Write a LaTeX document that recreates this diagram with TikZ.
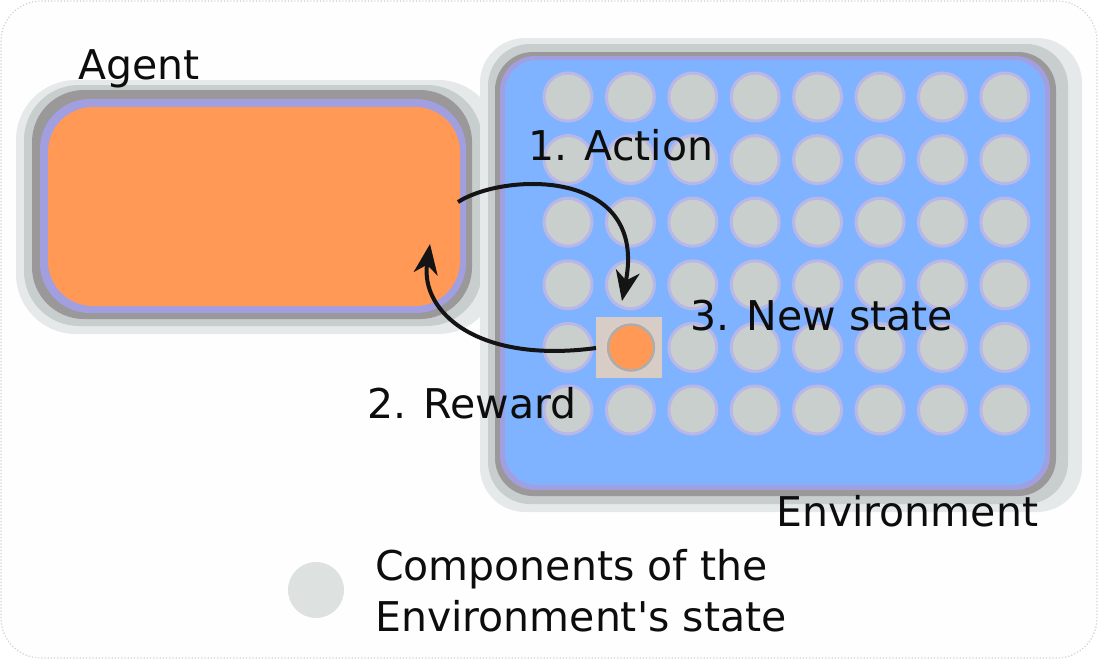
\documentclass[tikz,border=0pt]{standalone}
\usepackage{fontspec}
\setmainfont{DejaVu Sans}[Ligatures=TeXOff]
\usetikzlibrary{arrows.meta}
\definecolor{orangef}{HTML}{FF9955}
\definecolor{bluef}{HTML}{80B3FF}
\definecolor{purpleb}{HTML}{A29FE0}
\definecolor{darkg}{HTML}{9A9898}
\definecolor{glowg}{HTML}{C8CECD}
\definecolor{cellg}{HTML}{C8CFCD}
\definecolor{frameg}{HTML}{D0D0D0}
\tikzset{
  lbl/.style={anchor=base west, inner sep=0pt, font=\fontsize{41}{48}\selectfont, text=black!95},
  cell/.style={circle, minimum size=48pt, inner sep=0pt, fill=cellg, draw=purpleb!75, line width=3pt},
  arr/.style={line width=4pt, black!92, -{Stealth[length=30pt, width=24pt, inset=9pt]}},
}
\begin{document}
\begin{tikzpicture}[x=1pt,y=-1pt]
\useasboundingbox (0,0) rectangle (1098,659);
% frame
\draw[frameg, dotted, line width=1.2pt, fill=white!99.5!black, rounded corners=40pt] (1,1) rectangle (1097,658);
% Agent box layers
\fill[glowg!45, rounded corners=60pt] (16,80) rectangle (498,334);
\fill[glowg, rounded corners=55pt] (24,85) rectangle (482,326);
\fill[darkg, rounded corners=52pt] (32,90) rectangle (472,319);
\fill[purpleb, rounded corners=50pt] (40,99) rectangle (466,313);
\node[fill=orangef, rounded corners=45pt, minimum width=412pt, minimum height=199pt, inner sep=0pt] (agent) at (254,206.5) {};
% Environment box layers
\fill[glowg!45, rounded corners=45pt] (480,38) rectangle (1082,512);
\fill[glowg, rounded corners=42pt] (488,44) rectangle (1068,504);
\fill[darkg, rounded corners=38pt] (495,52) rectangle (1056,496);
\fill[purpleb, rounded corners=35pt] (500,56) rectangle (1050,490);
\node[fill=bluef, rounded corners=32pt, minimum width=540pt, minimum height=425pt, inner sep=0pt] (env) at (775,272.5) {};
% grid of state components
\foreach \c in {0,...,7}{
  \foreach \r in {0,...,5}{
    \node[cell] (c\c-\r) at ({568+62.4*\c},{97+62.6*\r}) {};
  }
}
% current (new) state component
\fill[darkg!60!orange!40, opacity=0.85] (596,317) rectangle (662,378);
\node[circle, minimum size=46pt, inner sep=0pt, fill=orangef, draw=darkg!80, line width=2.5pt] (cur) at (631,347.5) {};
% arrows
\coordinate (acts) at (458,202);
\coordinate (acte) at (622,301);
\coordinate (rews) at (596,348);
\coordinate (rewe) at (430,244);
\draw[arr] (acts) .. controls (505,172) and (648,168) .. (acte);
\draw[arr] (rews) .. controls (478,364) and (420,312) .. (rewe);
% labels
\node[lbl] (tagent) at (78,79) {Agent};
\node[lbl] (tact) at (528,160.5) {1. Action};
\node[lbl] (tnew) at (690,330) {3. New state};
\node[lbl] (trew) at (367,418) {2. Reward};
\node[lbl] (tenv) at (776,526) {Environment};
% legend
\node[circle, minimum size=56pt, inner sep=0pt, fill=cellg, opacity=0.6] (leg) at (316,590) {};
\node[lbl] (tl1) at (375,580) {Components of the};
\node[lbl] (tl2) at (375,631) {Environment's state};
\end{tikzpicture}
\end{document}
